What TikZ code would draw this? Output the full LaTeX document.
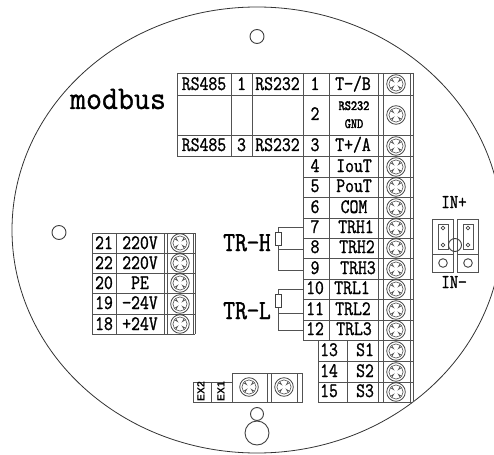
\documentclass[tikz,border=0pt]{standalone}
\usepackage{fontspec}
\setmonofont[FakeBold=1.2,FakeStretch=0.84]{Latin Modern Mono}
\newfontfamily\modfont[FakeBold=0.9,FakeStretch=0.94]{Latin Modern Mono}
\newfontfamily\boldmono[FakeBold=2.4,FakeStretch=0.85]{Latin Modern Mono}
\setsansfont{Liberation Sans}
\tikzset{
  x=1pt,y=-1pt,
  rule/.style={draw=black!68,line width=0.9pt},
  hole/.style={draw=black!75,line width=0.9pt},
  lab/.style={anchor=base,inner sep=0pt,outer sep=0pt,font=\fontsize{20.5}{20.5}\selectfont\ttfamily},
  big/.style={anchor=base,inner sep=0pt,outer sep=0pt,font=\fontsize{27.5}{27.5}\selectfont\ttfamily},
  mid/.style={anchor=base,inner sep=0pt,outer sep=0pt,font=\fontsize{19.5}{19.5}\selectfont\ttfamily},
  tiny/.style={anchor=base,inner sep=0pt,outer sep=0pt,font=\fontsize{14}{14}\selectfont\boldmono},
  exlab/.style={inner sep=0pt,outer sep=0pt,rotate=90,font=\fontsize{10.5}{10.5}\selectfont\sffamily\bfseries},
  res/.style={draw=black!75,line width=0.8pt,minimum width=6.5pt,minimum height=13pt,inner sep=0pt,outer sep=0pt},
  wire/.style={draw=black!68,line width=0.8pt},
  screw/.pic={
    \draw[black!72,line width=0.8pt] (0,0) circle[radius=9.3];
    \draw[black!72,line width=0.6pt]
      (-2.4,-2.4) -- (-4.4,-5.6) arc[start angle=232,end angle=308,radius=7.1] -- (2.4,-2.4)
      -- (5.6,-4.4) arc[start angle=-38,end angle=38,radius=7.1] -- (2.4,2.4)
      -- (4.4,5.6) arc[start angle=52,end angle=128,radius=7.1] -- (-2.4,2.4)
      -- (-5.6,4.4) arc[start angle=142,end angle=218,radius=7.1] -- cycle;
  }
}
\begin{document}
\begin{tikzpicture}
\useasboundingbox (0,0) rectangle (494,454);
\begin{scope}
\clip (0,0) rectangle (494,454);
\draw[black!80,line width=0.8pt] (257,230) ellipse[x radius=245,y radius=223];
\end{scope}
% holes
\draw[hole] (257,36.5) circle[radius=7];
\draw[hole] (59,232.5) circle[radius=7];
\draw[hole] (257,414) circle[radius=6.5];
\draw[hole] (257,433) circle[radius=12];
% title
\node[inner sep=0pt,anchor=base] (modbus) at (118,109) {\fontsize{33}{33}\selectfont\modfont modbus};
% main terminal grid
\foreach \y in {73,95,135,156} \draw[rule] (177,\y) -- (413,\y);
\foreach \y in {177,197,218,238,258,279,299,320,340} \draw[rule] (303,\y) -- (413,\y);
\foreach \y in {361,382,402} \draw[rule] (318,\y) -- (413,\y);
\foreach \x in {177,231,252} \draw[rule] (\x,73) -- (\x,156);
\foreach \x in {303,329} \draw[rule] (\x,73) -- (\x,340);
\foreach \x in {318,347} \draw[rule] (\x,340) -- (\x,402);
\foreach \x in {378,383,410,413} \draw[rule] (\x,73) -- (\x,402);
% screws
\foreach \y in {84,115,146,167,187,208,228,248,269,289,310,330,351,372,392}
  \pic at (396,\y) {screw};
% header cells
\node[lab] (a1) at (204,90) {RS485};
\node[lab] (a2) at (241.5,90) {1};
\node[lab] (a3) at (277.5,90) {RS232};
\node[lab] (b1) at (204,151) {RS485};
\node[lab] (b2) at (241.5,151) {3};
\node[lab] (b3) at (277.5,151) {RS232};
% terminals
\node[lab] (n1) at (315,90) {1};   \node[lab] (l1) at (353,90) {T−/B};
\node[lab] (n2) at (315,120) {2};
\node[tiny] (l2a) at (354,110) {RS232};
\node[tiny] (l2b) at (354,128) {GND};
\node[lab] (n3) at (315,151) {3};  \node[lab] (l3) at (353,151) {T+/A};
\node[lab] (n4) at (315,172) {4};  \node[lab] (l4) at (354,172) {IouT};
\node[lab] (n5) at (315,192) {5};  \node[lab] (l5) at (354,192) {PouT};
\node[lab] (n6) at (315,213) {6};  \node[lab] (l6) at (354,213) {COM};
\node[lab] (n7) at (315,233) {7};  \node[lab] (l7) at (356,233) {TRH1};
\node[lab] (n8) at (315,253) {8};  \node[lab] (l8) at (357,253) {TRH2};
\node[lab] (n9) at (315,274) {9};  \node[lab] (l9) at (358,274) {TRH3};
\node[lab] (n10) at (315,294) {10}; \node[lab] (l10) at (352,294) {TRL1};
\node[lab] (n11) at (315,315) {11}; \node[lab] (l11) at (353,315) {TRL2};
\node[lab] (n12) at (315,335) {12}; \node[lab] (l12) at (354,335) {TRL3};
\node[lab] (n13) at (329,356) {13}; \node[lab] (l13) at (365,356) {S1};
\node[lab] (n14) at (329,377) {14}; \node[lab] (l14) at (365,377) {S2};
\node[lab] (n15) at (329,397) {15}; \node[lab] (l15) at (365,397) {S3};
% power table
\foreach \y in {233,253,273,293,314,334} \draw[rule] (92,\y) -- (195,\y);
\foreach \x in {92,116,164,167,193,195} \draw[rule] (\x,233) -- (\x,334);
\foreach \y in {243,263,283,304,324} \pic at (180,\y) {screw};
\node[lab] (p1) at (104,249) {21}; \node[lab] (q1) at (140,249) {220V};
\node[lab] (p2) at (104,269) {22}; \node[lab] (q2) at (140,269) {220V};
\node[lab] (p3) at (104,289) {20}; \node[lab] (q3) at (140,289) {PE};
\node[lab] (p4) at (104,309) {19}; \node[lab] (q4) at (140,309) {−24V};
\node[lab] (p5) at (104,330) {18}; \node[lab] (q5) at (140,330) {+24V};
% TR-H, TR-L
\node[big] (trh) at (247,251) {TR−H};
\node[big] (trl) at (247,319) {TR−L};
\node[res] (rh) at (278.5,238.5) {};
\node[res] (rl) at (278.5,301) {};
\coordinate (h7) at (303,227);
\coordinate (h8) at (303,249);
\coordinate (h9) at (303,270);
\coordinate (l10c) at (303,289);
\coordinate (l11c) at (303,313);
\coordinate (l12c) at (303,330);
\draw[wire] (rh.north) |- (h7);
\draw[wire] (rh.south) |- (h8);
\draw[wire] (rh.south) |- (h9);
\draw[wire] (rl.north) |- (l10c);
\draw[wire] (rl.south) |- (l11c);
\draw[wire] (rl.south) |- (l12c);
% IN block
\foreach \x in {432,457} {
  \draw[rule] (\x,219) rectangle (\x+21,272);
  \draw[rule] (\x,254) -- (\x+21,254);
  \draw[rule] (\x+6,224) rectangle (\x+16,249);
  \draw[hole,line width=0.7pt] (\x+11,228) circle[radius=1.8];
  \draw[hole,line width=0.7pt] (\x+11,245) circle[radius=1.8];
  \draw[hole] (\x+11,263) circle[radius=4.3];
}
\draw[hole,fill=none] (455,245) circle[radius=6.5];
\node[mid] (inp) at (454,208) {IN+};
\node[mid] (inm) at (454,288) {IN−};
% EX block
\draw[rule] (193,382) rectangle (232,402);
\draw[rule] (211,382) -- (211,402);
\draw[rule] (232,373) rectangle (302,402);
\foreach \x in {267,271,297} \draw[rule] (\x,373) -- (\x,402);
\pic at (249,387) {screw};
\pic at (284,387) {screw};
\node[exlab] (ex2) at (201,392) {EX2};
\node[exlab] (ex1) at (221,392) {EX1};
\end{tikzpicture}
\end{document}
